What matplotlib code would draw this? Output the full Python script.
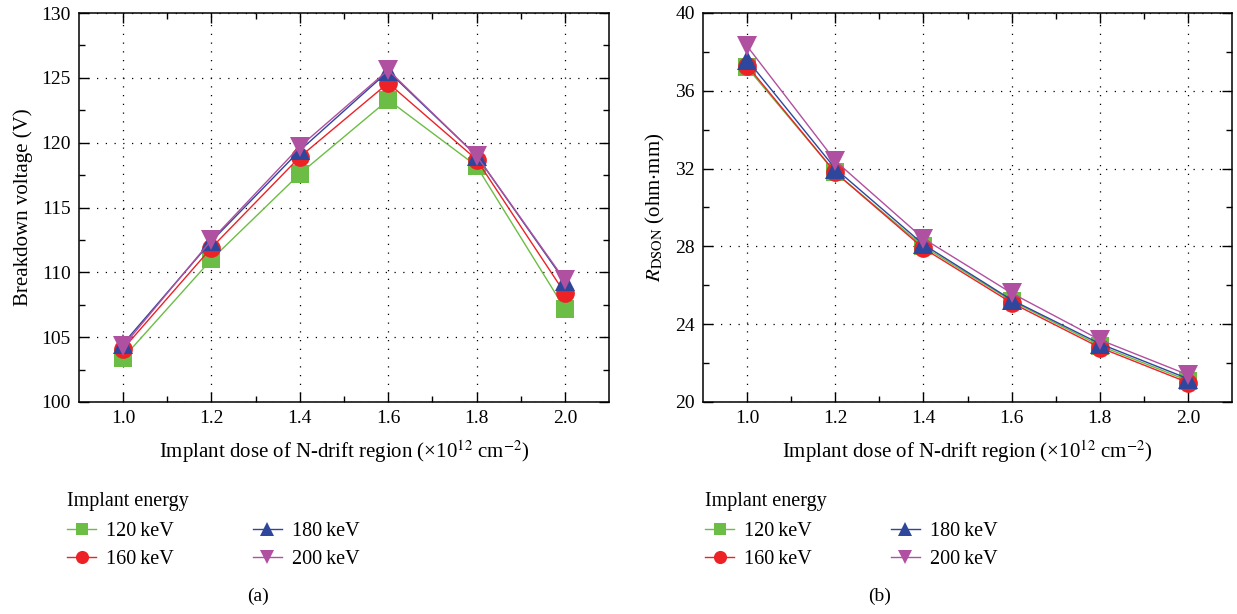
import numpy as np
import matplotlib.pyplot as plt

plt.rcParams['font.family'] = ['Liberation Serif', 'DejaVu Serif']
plt.rcParams['mathtext.fontset'] = 'stix'

# implant dose (x1e12 cm^-2)
dose = [1.0, 1.2, 1.4, 1.6, 1.8, 2.0]
energies = ['120\u2009keV', '160\u2009keV', '180\u2009keV', '200\u2009keV']

# breakdown voltage (V)
bv_120 = [103.4, 111.0, 117.6, 123.3, 118.2, 107.2]
bv_160 = [104.1, 111.9, 118.9, 124.6, 118.7, 108.4]
bv_180 = [104.5, 112.4, 119.4, 125.5, 119.0, 109.3]
bv_200 = [104.3, 112.5, 119.7, 125.6, 119.0, 109.4]

# specific on-resistance (ohm*mm)
ron_120 = [37.2, 31.8, 28.0, 25.2, 22.9, 21.1]
ron_160 = [37.3, 31.8, 27.9, 25.1, 22.8, 21.0]
ron_180 = [37.6, 32.0, 28.1, 25.25, 23.0, 21.2]
ron_200 = [38.3, 32.4, 28.4, 25.6, 23.2, 21.4]

colors = ['#6cbd45', '#ec2227', '#2e479c', '#b050a0']
markers = ['s', 'o', '^', 'v']
msizes = [12.5, 13.5, 14.5, 14.5]

W, H = 1237, 614
fig = plt.figure(figsize=(W / 100, H / 100), dpi=100)
ax1 = fig.add_axes([79 / W, 1 - 402 / H, 530 / W, 389 / H])
ax2 = fig.add_axes([703 / W, 1 - 402 / H, 529 / W, 389 / H])


def style(ax, yticks, yminor):
    ax.set_xlim(0.9, 2.1)
    ax.set_xticks(dose)
    ax.set_xticklabels(['%.1f' % d for d in dose])
    ax.set_xticks(np.arange(1.1, 2.0, 0.2), minor=True)
    ax.set_yticks(yticks)
    ax.set_yticks(yminor, minor=True)
    ax.set_ylim(yticks[0], yticks[-1])
    ax.tick_params(which='both', direction='in', top=True, right=True,
                   labelsize=14, width=1.0, pad=6)
    ax.tick_params(which='major', length=7)
    ax.tick_params(which='minor', length=4)
    ax.grid(True, which='major', color='black', linestyle=(0, (1, 6)), linewidth=0.9)
    for s in ax.spines.values():
        s.set_linewidth(1.1)
    ax.set_xlabel('Implant dose of N-drift region (\u00d710$^{12}$ cm$^{-2}$)',
                  fontsize=15, labelpad=8)


series_a = [bv_120, bv_160, bv_180, bv_200]
series_b = [ron_120, ron_160, ron_180, ron_200]

for ax, series in [(ax1, series_a), (ax2, series_b)]:
    for vals, c, m, ms, lab in zip(series, colors, markers, msizes, energies):
        ax.plot(dose, vals, color=c, marker=m, markersize=ms, linewidth=1.0,
                markeredgewidth=0, label=lab, zorder=3)

style(ax1, [100, 105, 110, 115, 120, 125, 130], np.arange(102.5, 130, 5))
ax1.set_ylabel('Breakdown voltage (V)', fontsize=15, labelpad=6)
style(ax2, [20, 24, 28, 32, 36, 40], np.arange(22, 40, 4))
ax2.set_ylabel('$R_{\\mathrm{DSON}}$ (ohm$\\cdot$mm)', fontsize=15, labelpad=6)

for ax, lx in [(ax1, 67), (ax2, 705)]:
    h, l = ax.get_legend_handles_labels()
    leg = ax.legend(h, l, ncol=2, loc='upper left', frameon=False,
                    bbox_to_anchor=(lx / W, 1 - 492 / H), bbox_transform=fig.transFigure,
                    title='Implant energy', title_fontsize=14.5, fontsize=14.5,
                    borderpad=0, borderaxespad=0, handlelength=1.45, handletextpad=0.5,
                    columnspacing=3.9, labelspacing=0.45, markerscale=0.7)
    leg._legend_box.align = 'left'
    leg._legend_box.sep = 8

fig.text(258 / W, 1 - 596 / H, '(a)', ha='center', va='center', fontsize=14)
fig.text(880 / W, 1 - 596 / H, '(b)', ha='center', va='center', fontsize=14)

fig.savefig('out.png', dpi=100)
